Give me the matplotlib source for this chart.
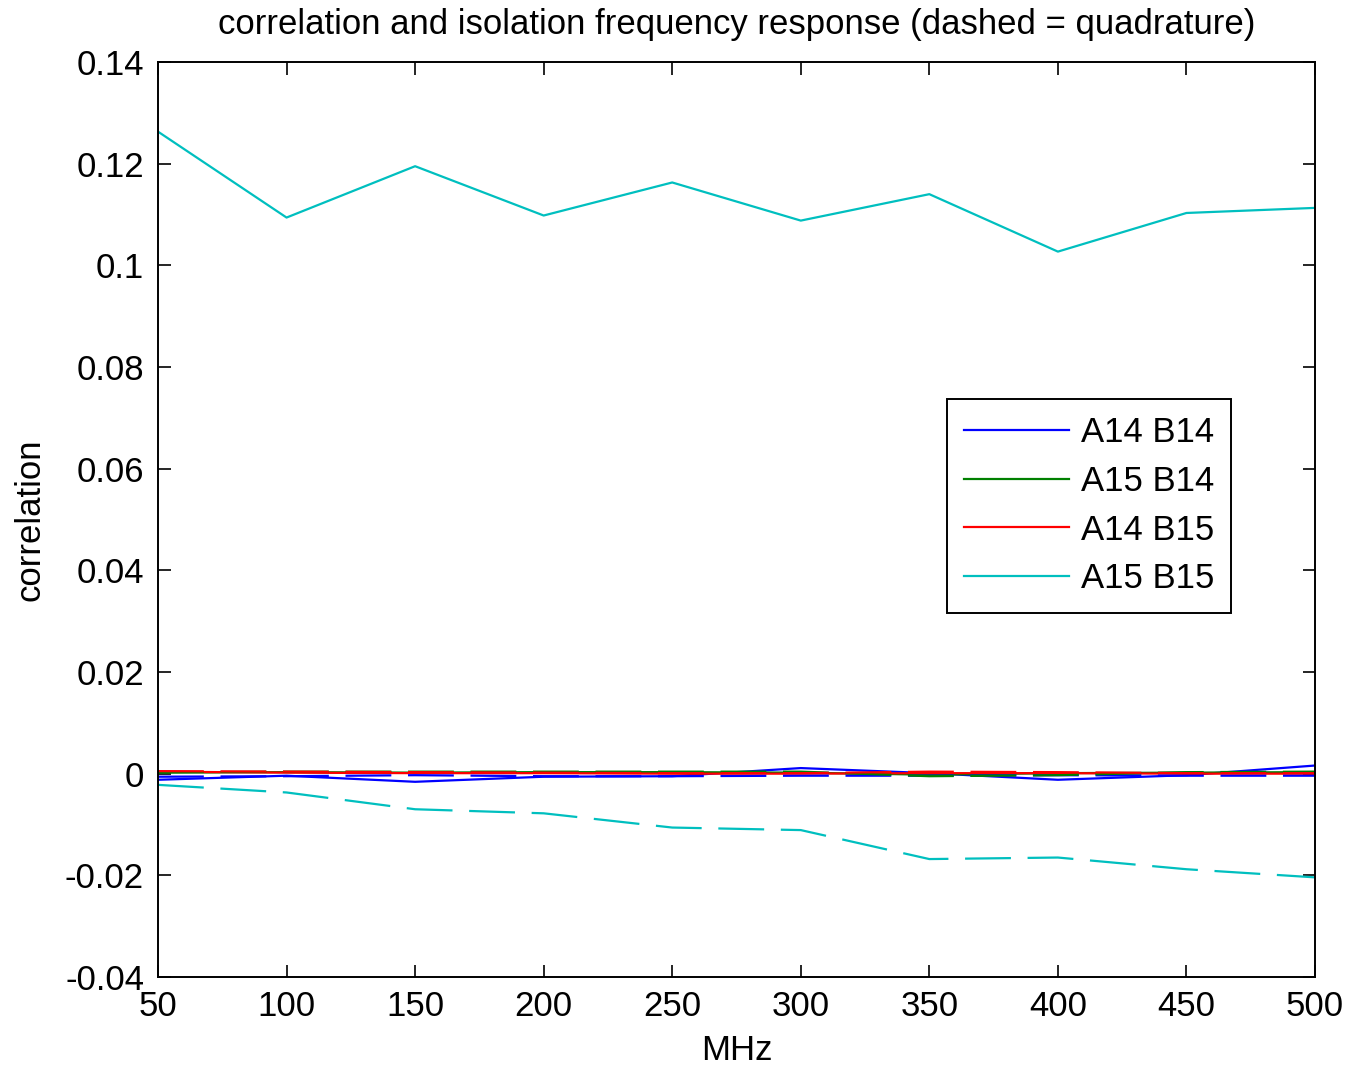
import matplotlib
matplotlib.use("Agg")
import matplotlib.pyplot as plt

plt.rcParams['font.family'] = ['Liberation Sans', 'DejaVu Sans']
plt.rcParams['lines.scale_dashes'] = False

freq = [50, 100, 150, 200, 250, 300, 350, 400, 450, 500]

# in-phase (solid) correlations
a14b14_i = [-0.0012, -0.0004, -0.0016, -0.0006, -0.0005, 0.0011, 0.0001, -0.0012, -0.0003, 0.0016]
a15b14_i = [0.0002, 0.0003, 0.0002, 0.0003, 0.0003, 0.0002, -0.0002, 0.0001, 0.0002, 0.0003]
a14b15_i = [0.0004, 0.0002, 0.0001, 0.0001, 0.0000, 0.0000, 0.0001, 0.0001, 0.0000, 0.0000]
a15b15_i = [0.1263, 0.1094, 0.1195, 0.1098, 0.1163, 0.1088, 0.1140, 0.1027, 0.1103, 0.1113]

# quadrature (dashed) correlations
a14b14_q = [-0.0006, -0.0005, -0.0003, -0.0005, -0.0005, -0.0004, -0.0004, -0.0003, -0.0004, -0.0004]
a15b14_q = [0.0003, 0.0004, 0.0004, 0.0004, 0.0004, 0.0004, -0.0005, -0.0003, 0.0003, 0.0004]
a14b15_q = [0.0005, 0.0004, 0.0003, 0.0002, 0.0001, 0.0001, 0.0004, 0.0003, 0.0001, 0.0001]
a15b15_q = [-0.0022, -0.0037, -0.0070, -0.0078, -0.0106, -0.0111, -0.0168, -0.0165, -0.0188, -0.0204]

labels = ['A14 B14', 'A15 B14', 'A14 B15', 'A15 B15']
colors = ['#0000ff', '#008000', '#ff0000', '#00bfbf']
solid = [a14b14_i, a15b14_i, a14b15_i, a15b15_i]
dashed = [a14b14_q, a15b14_q, a14b15_q, a15b15_q]

yticks = [-0.04, -0.02, 0, 0.02, 0.04, 0.06, 0.08, 0.1, 0.12, 0.14]
ytick_labels = ['-0.04', '-0.02', '0', '0.02', '0.04', '0.06', '0.08', '0.1', '0.12', '0.14']
xticks = [50, 100, 150, 200, 250, 300, 350, 400, 450, 500]

fs = 25

fig = plt.figure(figsize=(13.47, 10.67), dpi=100)
ax = fig.add_axes([158/1347, 1-977/1067, (1315-158)/1347, (977-62)/1067])

lw = 1.6
handles = []
for lab, c, s in zip(labels, colors, solid):
    h, = ax.plot(freq, s, color=c, lw=lw, label=lab)
    handles.append(h)
for c, d in zip(colors, dashed):
    ax.plot(freq, d, color=c, lw=lw, dashes=(33, 12))

ax.set_xlim(50, 500)
ax.set_ylim(-0.04, 0.14)
ax.set_xticks(xticks)
ax.set_xticklabels([str(v) for v in xticks])
ax.set_yticks(yticks)
ax.set_yticklabels(ytick_labels)
ax.tick_params(direction='in', length=9, width=1.2, top=True, right=True,
               labelsize=fs)
ax.tick_params(axis='y', pad=10)
ax.tick_params(axis='x', pad=9)
for sp in ax.spines.values():
    sp.set_linewidth(1.4)

ax.set_xlabel('MHz', fontsize=fs, labelpad=8)
ax.set_ylabel('correlation', fontsize=fs, labelpad=13)
ax.set_title('correlation and isolation frequency response (dashed = quadrature)',
             fontsize=fs, pad=20)

leg = ax.legend(handles=handles, loc='upper left',
                bbox_to_anchor=((947-158)/(1315-158), (977-399)/(977-62)),
                fontsize=fs, handlelength=3.0, handletextpad=0.35,
                labelspacing=0.45, borderpad=0.5, fancybox=False,
                framealpha=1, edgecolor='black', borderaxespad=0)
leg.get_frame().set_linewidth(1.4)

fig.savefig('out.png', dpi=100)
